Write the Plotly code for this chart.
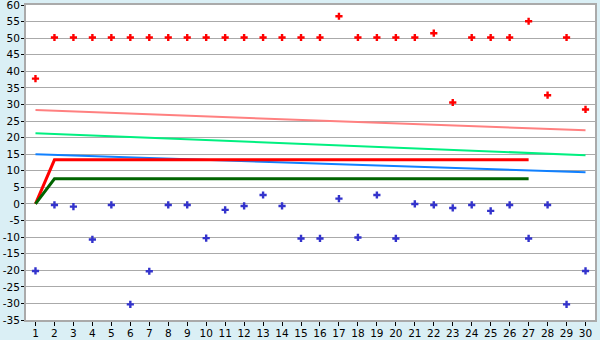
import plotly.graph_objects as go

categories = list(range(1, 31))

red_points = [37.8, 50.2, 50.2, 50.2, 50.2, 50.2, 50.2, 50.2, 50.2, 50.2,
              50.2, 50.2, 50.2, 50.2, 50.2, 50.2, 56.6, 50.2, 50.2, 50.2,
              50.2, 51.5, 30.6, 50.2, 50.2, 50.2, 55.1, 32.8, 50.2, 28.5]

blue_points = [-20.2, -0.3, -0.8, -10.7, -0.3, -30.3, -20.3, -0.3, -0.3, -10.3,
               -1.8, -0.6, 2.7, -0.6, -10.4, -10.4, 1.6, -10.1, 2.7, -10.4,
               0.0, -0.3, -1.2, -0.3, -2.1, -0.3, -10.4, -0.3, -30.3, -20.2]

red_line_x = [1, 2, 27]
red_line_y = [0, 13.3, 13.3]
green_line_x = [1, 2, 27]
green_line_y = [0, 7.6, 7.6]

salmon_x = [1, 30]
salmon_y = [28.3, 22.2]
lime_x = [1, 30]
lime_y = [21.3, 14.7]
azure_x = [1, 30]
azure_y = [15.0, 9.55]

y_ticks = list(range(-35, 61, 5))
y_tick_labels = [str(v) for v in y_ticks]

fig = go.Figure()
fig.add_trace(go.Scatter(x=salmon_x, y=salmon_y, mode="lines",
                         line=dict(color="#FF8080", width=2)))
fig.add_trace(go.Scatter(x=lime_x, y=lime_y, mode="lines",
                         line=dict(color="#00F080", width=2)))
fig.add_trace(go.Scatter(x=azure_x, y=azure_y, mode="lines",
                         line=dict(color="#1080FF", width=2)))
fig.add_trace(go.Scatter(x=red_line_x, y=red_line_y, mode="lines",
                         line=dict(color="#FF0000", width=3)))
fig.add_trace(go.Scatter(x=green_line_x, y=green_line_y, mode="lines",
                         line=dict(color="#006400", width=3)))
fig.add_trace(go.Scatter(x=categories, y=red_points, mode="markers",
                         marker=dict(symbol="cross", size=6, color="#FF0000",
                                     line=dict(width=0))))
fig.add_trace(go.Scatter(x=categories, y=blue_points, mode="markers",
                         marker=dict(symbol="cross", size=6, color="#3333CC",
                                     line=dict(width=0))))

fig.update_layout(
    width=600, height=340,
    margin=dict(l=26, r=5, t=5, b=20),
    paper_bgcolor="#DAEFF5",
    plot_bgcolor="#FFFFFF",
    showlegend=False,
    font=dict(family="DejaVu Sans", size=10.5, color="#000000"),
)
fig.update_xaxes(
    range=[0.5, 30.5], tickvals=categories, ticktext=[str(c) for c in categories],
    showgrid=False, zeroline=False, automargin=False,
    showline=True, linecolor="#AAAAAA", linewidth=2, mirror=True,
    ticks="outside", ticklen=4, tickcolor="#000000", tickwidth=1,
    ticklabelstandoff=-2, ticklabeloverflow="allow",
)
fig.update_yaxes(
    range=[-35, 60], tickvals=y_ticks, ticktext=y_tick_labels,
    showgrid=True, gridcolor="#AAAAAA", gridwidth=1,
    zeroline=False, automargin=False,
    showline=True, linecolor="#AAAAAA", linewidth=2, mirror=True,
    ticks="outside", ticklen=3, tickcolor="#000000", tickwidth=1,
    ticklabelstandoff=-1, ticklabeloverflow="allow",
)

fig.write_html("out.html")
